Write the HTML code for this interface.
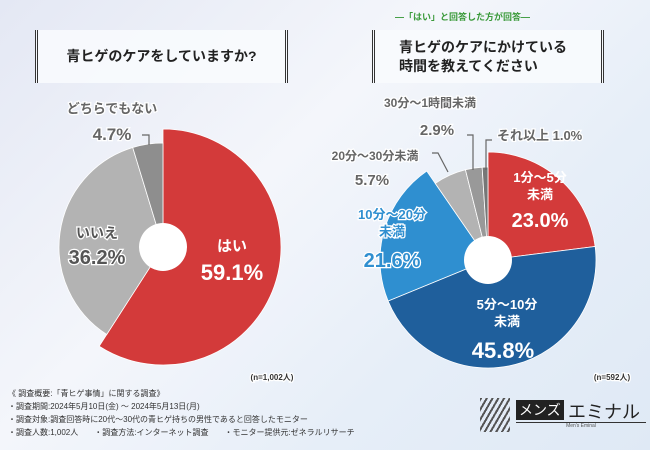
<!DOCTYPE html>
<html><head><meta charset="utf-8"><style>
body{margin:0;width:650px;height:450px;overflow:hidden;font-family:"Liberation Sans","Noto Sans CJK JP",sans-serif;}
#bg{position:absolute;left:0;top:0;width:650px;height:450px;background:linear-gradient(135deg,#e4e8f4 0%,#f4f6fb 40%,#e6eef8 70%,#dfe9f5 100%);}
.box{position:absolute;background:rgba(248,250,253,0.95);border-left:3px double #333;border-right:3px double #333;box-sizing:border-box;font-weight:bold;color:#222;}
.foot{position:absolute;left:8px;font-size:8px;color:#333;}
</style></head><body>
<div id="bg"></div>
<div class="box" style="left:35px;top:30px;width:253px;height:53px;font-size:14px;line-height:53px;text-align:center;">青ヒゲのケアをしていますか?</div>
<div style="position:absolute;left:395px;top:10px;font-size:9px;color:#3a9a3a;font-weight:bold;">—「はい」と回答した方が回答—</div>
<div class="box" style="left:372px;top:30px;width:232px;height:53px;font-size:14px;line-height:19px;padding:8px 0 0 24px;">青ヒゲのケアにかけている<br>時間を教えてください</div>
<svg id="chart" width="650" height="450" style="position:absolute;left:0;top:0"></svg>
<div class="foot" style="top:388px">《 調査概要:「青ヒゲ事情」に関する調査》</div>
<div class="foot" style="top:401px">・調査期間:2024年5月10日(金) ～ 2024年5月13日(月)</div>
<div class="foot" style="top:414px">・調査対象:調査回答時に20代～30代の青ヒゲ持ちの男性であると回答したモニター</div>
<div class="foot" style="top:427px">・調査人数:1,002人　　・調査方法:インターネット調査　　・モニター提供元:ゼネラルリサーチ</div>
<div style="position:absolute;left:480px;top:398px;width:170px;height:40px;">
<div style="position:absolute;left:0;top:0;width:30px;height:34px;background:repeating-linear-gradient(120deg,#555 0 2px,transparent 2px 5px);"></div>
<div style="position:absolute;left:36px;top:2px;background:#222;color:#fff;font-size:14px;padding:0 3px;">メンズ</div>
<div style="position:absolute;left:88px;top:0;font-size:18px;color:#222;">エミナル</div>
<div style="position:absolute;left:36px;top:24px;width:130px;border-top:1px solid #333;font-size:5px;text-align:center;color:#555;">Men's Eminal</div>
</div>
<script>
const leftLabels=["はい","いいえ","どちらでもない"];
const leftValues=[59.1,36.2,4.7];
const leftColors=["#d33a3a","#b3b3b3","#8e8e8e"];
const leftRadii=[118,104,104];
const rightLabels=["1分～5分未満","5分～10分未満","10分～20分未満","20分～30分未満","30分～1時間未満","それ以上"];
const rightValues=[23.0,45.8,21.6,5.7,2.9,1.0];
const rightColors=["#d33a3a","#1f5f9c","#2f8fd0","#b3b3b3","#999","#777"];
const rightRadii=[108,108,108,93,93,93];
const svg=document.getElementById('chart');
const NS="http://www.w3.org/2000/svg";
function pt(cx,cy,r,f){const a=f*2*Math.PI-Math.PI/2;return [cx+r*Math.cos(a),cy+r*Math.sin(a)];}
function pie(cx,cy,radii,vals,cols,name){
 const tot=vals.reduce((a,b)=>a+b,0);let acc=0;
 vals.forEach((v,i)=>{
  const r=radii[i];
  const f0=acc/tot,f1=(acc+v)/tot;acc+=v;
  const [x0,y0]=pt(cx,cy,r,f0),[x1,y1]=pt(cx,cy,r,f1);
  const p=document.createElementNS(NS,'path');
  p.setAttribute('d',`M${cx},${cy}L${x0},${y0}A${r},${r} 0 ${f1-f0>0.5?1:0} 1 ${x1},${y1}Z`);
  p.setAttribute('fill',cols[i]);p.setAttribute('stroke','#fff');p.setAttribute('stroke-width','0.8');
  
  
  svg.appendChild(p);
 });
 const c=document.createElementNS(NS,'circle');
 c.setAttribute('cx',cx);c.setAttribute('cy',cy);c.setAttribute('r',24);c.setAttribute('fill','#fff');
 
 
 svg.appendChild(c);
}
function txt(x,y,s,size,col,name,anchor){
 const t=document.createElementNS(NS,'text');
 t.setAttribute('x',x);t.setAttribute('y',y);t.setAttribute('font-size',size);t.setAttribute('fill',col);
 t.setAttribute('font-weight','bold');t.setAttribute('text-anchor',anchor||'middle');
 t.setAttribute('stroke',col=='#fff'?'#c33':'#fff');t.setAttribute('stroke-width',col=='#fff'?0:2.5);t.setAttribute('paint-order','stroke');
 t.setAttribute('font-family','"Liberation Sans","Noto Sans CJK JP",sans-serif');
 t.textContent=s;
 
 
 svg.appendChild(t);
}
function line(pts,name){
 const p=document.createElementNS(NS,'polyline');
 p.setAttribute('points',pts);p.setAttribute('fill','none');p.setAttribute('stroke','#666');p.setAttribute('stroke-width','1.2');
 
 
 svg.appendChild(p);
}
pie(163,247,leftRadii,leftValues,leftColors,'left-pie');
pie(488,260,rightRadii,rightValues,rightColors,'right-pie');
line("142,135 149,135 149,145",'leader-neither');
line("467,135 473,135 473,170",'leader-r5');
line("492,140 486,140 486,170",'leader-r6');
line("432,153 438,153 448,172",'leader-r4');
// left labels
txt(232,251,leftLabels[0],15,'#fff','label-yes');
txt(232,280,leftValues[0].toFixed(1)+'%',22,'#fff','value-yes');
txt(97,238,leftLabels[1],14,'#555','label-no');
txt(97,264,leftValues[1].toFixed(1)+'%',20,'#555','value-no');
txt(112,113,leftLabels[2],13,'#666','label-neither');
txt(112,140,leftValues[2].toFixed(1)+'%',17,'#666','value-neither');
// right labels
txt(540,182,"1分～5分",13,'#fff','label-r1');txt(540,199,"未満",13,'#fff','label-r1b');
txt(540,227,rightValues[0].toFixed(1)+'%',20,'#fff','value-r1');
txt(507,309,"5分～10分",13,'#fff','label-r2');txt(507,326,"未満",13,'#fff','label-r2b');
txt(503,358,rightValues[1].toFixed(1)+'%',22,'#fff','value-r2');
txt(392,219,"10分～20分",13,'#2f8fd0','label-r3');txt(392,236,"未満",13,'#2f8fd0','label-r3b');
txt(392,267,rightValues[2].toFixed(1)+'%',20,'#2f8fd0','value-r3');
txt(375,160,rightLabels[3],12,'#666','label-r4');
txt(372,185,rightValues[3].toFixed(1)+'%',15,'#666','value-r4');
txt(430,107,rightLabels[4],12,'#666','label-r5');
txt(437,135,rightValues[4].toFixed(1)+'%',15,'#666','value-r5');
txt(497,140,rightLabels[5]+' '+rightValues[5].toFixed(1)+'%',13,'#666','label-r6','start');
txt(272,380,"(n=1,002人)",8,'#333','left-n');
txt(612,380,"(n=592人)",8,'#333','right-n');
</script>
</body></html>
